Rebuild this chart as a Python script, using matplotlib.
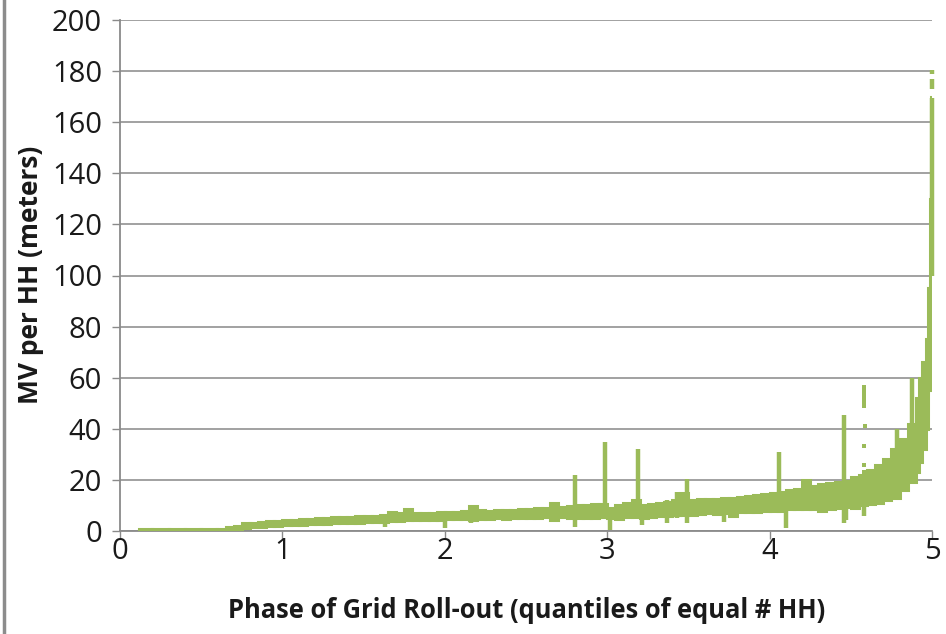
import matplotlib
matplotlib.use('Agg')
import matplotlib.pyplot as plt
import numpy as np
from matplotlib.lines import Line2D

# ---- data ----
phase = [0.12, 0.20, 0.30, 0.40, 0.50, 0.60, 0.65, 0.70, 0.75, 0.80, 0.85, 0.90, 0.95,
         1.00, 1.05, 1.10, 1.15, 1.20, 1.25, 1.30, 1.35, 1.40, 1.45, 1.50, 1.55, 1.60,
         1.65, 1.70, 1.75, 1.80, 1.85, 1.90, 1.95, 2.00, 2.05, 2.10, 2.15, 2.20, 2.25,
         2.30, 2.35, 2.40, 2.45, 2.50, 2.55, 2.60, 2.65, 2.70, 2.75, 2.80, 2.85, 2.90,
         2.95, 3.00, 3.05, 3.10, 3.15, 3.20, 3.25, 3.30, 3.35, 3.40, 3.45, 3.50, 3.55,
         3.60, 3.65, 3.70, 3.75, 3.80, 3.85, 3.90, 3.95, 4.00, 4.05, 4.10, 4.15, 4.20,
         4.25, 4.30, 4.35, 4.40, 4.45, 4.50, 4.55, 4.60, 4.65, 4.70, 4.75, 4.80, 4.85,
         4.90, 4.92, 4.94, 4.96, 4.975, 4.985, 4.995]
mv_low = [0.0, 0.0, 0.0, 0.0, 0.0, 0.1, 0.3, 0.6, 1.2, 1.4, 1.6, 1.8, 2.0,
          2.2, 2.2, 2.4, 2.6, 2.8, 2.8, 3.0, 3.0, 3.2, 3.2, 3.4, 3.4, 3.6,
          3.8, 3.8, 4.2, 4.2, 4.4, 4.4, 4.4, 4.6, 4.6, 4.6, 4.4, 4.8, 4.8,
          5.0, 4.6, 5.0, 5.2, 5.2, 5.0, 5.4, 4.4, 5.4, 5.0, 5.2, 5.2, 5.0,
          5.4, 5.0, 4.6, 5.4, 5.6, 5.0, 5.6, 6.0, 6.0, 6.2, 6.2, 6.4, 6.8,
          7.0, 6.8, 7.0, 6.0, 7.4, 7.4, 7.6, 7.8, 8.0, 8.0, 8.6, 8.8, 8.6,
          8.6, 8.0, 8.6, 9.0, 9.4, 9.0, 10.0, 10.4, 11.0, 12.0, 13.0, 16.0, 19.0,
          23.0, 27.0, 32.0, 40.0, 55.0, 70.0, 90.0]
mv_high = [0.6, 0.6, 0.6, 0.6, 0.7, 0.9, 1.4, 1.8, 3.0, 3.2, 3.6, 3.8, 4.0,
           4.4, 4.4, 4.6, 4.8, 5.0, 5.0, 5.3, 5.4, 5.6, 5.8, 5.8, 6.0, 6.4,
           7.4, 7.0, 8.8, 7.2, 7.0, 7.2, 7.4, 7.6, 7.6, 8.0, 9.6, 8.2, 8.0,
           8.2, 8.4, 8.4, 8.8, 8.6, 9.0, 9.0, 10.8, 9.2, 9.6, 10.0, 10.0, 10.4,
           10.4, 9.0, 10.0, 11.0, 12.0, 10.0, 10.6, 11.0, 11.4, 12.0, 15.0, 12.0, 12.4,
           12.6, 12.6, 12.8, 13.0, 13.4, 13.8, 14.0, 14.6, 15.0, 15.2, 16.0, 16.6, 20.0,
           17.6, 18.4, 18.6, 19.0, 19.4, 21.0, 22.0, 24.0, 26.0, 28.0, 32.0, 36.0, 42.0,
           52.0, 60.0, 66.0, 75.0, 95.0, 130.0, 170.0]

spike_phase = [1.63, 2.00, 2.16, 2.80, 2.985, 3.015, 3.19, 3.215, 3.37, 3.43, 3.49,
               3.72, 4.06, 4.10, 4.46, 4.47, 4.58, 4.785, 4.875, 5.0, 5.0, 5.0]
spike_low = [1.6, 1.2, 3.0, 1.6, 5.0, 0.2, 5.0, 2.3, 3.0, 5.0, 3.0,
             3.5, 8.0, 1.0, 3.0, 4.3, 6.0, 15.0, 20.0, 100.0, 173.0, 179.0]
spike_high = [4.0, 5.0, 10.0, 22.0, 34.8, 6.0, 32.0, 6.0, 12.0, 15.3, 20.5,
              8.0, 31.0, 9.0, 45.5, 10.0, 20.0, 40.0, 60.0, 169.5, 177.0, 180.5]

dot_phase = [4.58, 4.58, 4.58, 4.58, 4.58, 4.58, 4.585, 4.58, 4.58, 4.58]
dot_mv = [56.5, 55.0, 53.5, 52.0, 50.5, 49.0, 41.0, 33.4, 26.0, 23.0]

x_ticks = [0, 1, 2, 3, 4, 5]
y_ticks = [0, 20, 40, 60, 80, 100, 120, 140, 160, 180, 200]
x_label = 'Phase of Grid Roll-out (quantiles of equal # HH)'
y_label = 'MV per HH (meters)'

# ---- style ----
GREEN = '#9BBB59'
GRID = '#9a9a9a'
AXIS = '#8a8a8a'
FONT = 'Open Sans'
plt.rcParams['font.family'] = [FONT, 'DejaVu Sans']

fig = plt.figure(figsize=(9.46, 6.34), dpi=100)
ax = fig.add_axes([120 / 946, 103 / 634, 812 / 946, 511 / 634])

px = np.asarray(phase)
lo = np.asarray(mv_low)
hi = np.asarray(mv_high)
gaps = np.diff(px)
widths = np.append(gaps, gaps[-1])
ax.bar(px, hi - lo, bottom=lo, width=widths, align='edge', color=GREEN,
       edgecolor=GREEN, linewidth=2.2, zorder=3)
ax.vlines(spike_phase, spike_low, spike_high, color=GREEN, lw=3.2, zorder=3,
          clip_on=False)
ax.scatter(dot_phase, dot_mv, marker='s', s=10, color=GREEN, lw=0, zorder=3)

ax.set_xlim(0, 5)
ax.set_ylim(0, 200)
ax.set_xticks(x_ticks)
ax.set_yticks(y_ticks)
ax.set_xticklabels([str(v) for v in x_ticks])
ax.set_yticklabels([str(v) for v in y_ticks])

ax.set_axisbelow(True)
ax.yaxis.grid(True, color=GRID, lw=1.3)
ax.xaxis.grid(False)
for s in ['top', 'right']:
    ax.spines[s].set_visible(False)
for s in ['left', 'bottom']:
    ax.spines[s].set_color(AXIS)
    ax.spines[s].set_linewidth(1.3)
ax.tick_params(axis='both', direction='out', length=6, width=1.0, color=AXIS,
               labelsize=21, labelcolor='#1a1a1a')
ax.tick_params(axis='y', pad=7)
ax.tick_params(axis='x', pad=-2)

fig.text(527 / 946, 1 - 611 / 634, x_label, ha='center', va='center',
         fontsize=18.4, fontweight='bold', color='#1a1a1a')
fig.text(30 / 946, 1 - 275 / 634, y_label, ha='center', va='center',
         rotation=90, fontsize=19.0, fontweight='bold', color='#1a1a1a')

fig.add_artist(Line2D([3.5 / 946, 3.5 / 946], [0, 1], transform=fig.transFigure,
                      color='#8c8c8c', lw=2.5))

fig.savefig('out.png', dpi=100)
